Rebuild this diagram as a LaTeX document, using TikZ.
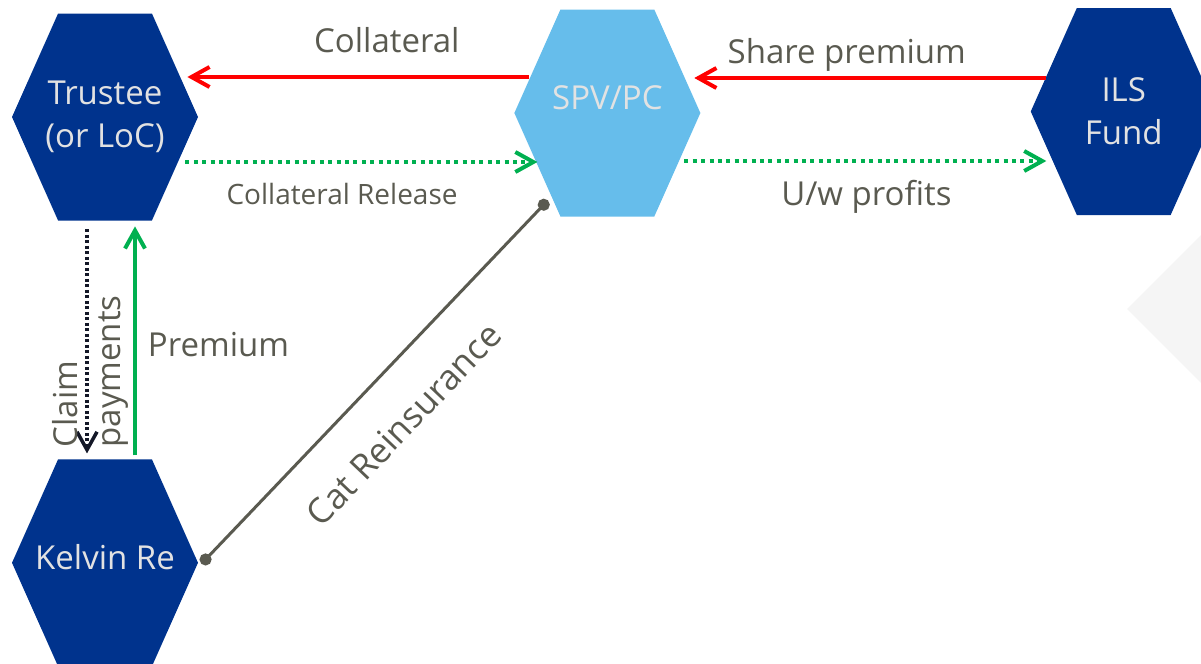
\documentclass[tikz,border=0pt]{standalone}
\usepackage{fontspec}
\setmainfont{Open Sans}
\usetikzlibrary{arrows.meta,positioning,shapes.symbols}

\definecolor{hexblue}{RGB}{0,51,141}
\definecolor{spvblue}{RGB}{102,189,235}
\definecolor{hextext}{RGB}{226,226,226}
\definecolor{lblgray}{RGB}{90,90,80}
\definecolor{flowred}{RGB}{255,0,0}
\definecolor{flowgreen}{RGB}{0,176,80}
\definecolor{flowdark}{RGB}{20,24,40}

\newcommand{\hexfont}{\fontsize{16.5}{21.5}\selectfont}
\newcommand{\lblfont}{\fontsize{16.5}{21.5}\selectfont}
\newcommand{\smallfont}{\fontsize{14}{17}\selectfont}
\newcommand{\catfont}{\fontsize{17.5}{21.5}\selectfont}

\begin{document}
\begin{tikzpicture}[x=0.5pt,y=-0.5pt]
	\tikzstyle{hexa}
	  =[signal, signal to=east and west, signal from=nowhere,
	  signal pointer angle=132, minimum width=93pt,
	  minimum height=103.5pt, inner xsep=-20pt, inner ysep=0pt,
	  fill=hexblue, text=hextext, align=center, font=\hexfont]
	\tikzstyle{barb}=[-{Straight Barb[length=9pt,width=10pt]}]
	\tikzstyle{solidred}=[barb, draw=flowred, line width=2pt]
	\tikzstyle{dotgreen}=[barb, draw=flowgreen, line width=2pt,
	  dash pattern=on 2pt off 2.2pt]
	\tikzstyle{solidgreen}=[barb, draw=flowgreen, line width=2pt]
	\tikzstyle{dotdark}=[barb, draw=flowdark, line width=1.75pt,
	  dash pattern=on 1.5pt off 1.25pt]
	\tikzstyle{catline}
	  =[{Circle[length=6pt]}-{Circle[length=6pt]}, draw=lblgray,
	  line width=1.5pt]
	\tikzstyle{lbl}=[text=lblgray, font=\lblfont]

	\useasboundingbox (0,0) rectangle (1201,664);
	\fill[black!4] (1127,309) -- (1220,216) -- (1313,309) -- (1220,402) -- cycle;

	\node[hexa] (trustee)
	  at (105,117) {\raisebox{1pt}{Trustee}\\\raisebox{1pt}{(or LoC)}};
	\node[hexa, fill=spvblue] (spv)
	  [right=157.75pt of trustee, yshift=2pt] {\raisebox{15pt}{SPV/PC}};
	\node[hexa] (ils)
	  [right=164.75pt of spv, yshift=0.75pt] {ILS\\Fund};
	\node[hexa] (kelvin)
	  [below=119pt of trustee] {\raisebox{6pt}{Kelvin Re}};

	\draw[solidred] ([shift={(15.5,-36)}]spv.west)
	  -- node[lbl, pos=0.417, yshift=18.5pt] {Collateral}
	  ([shift={(-11,-40)}]trustee.east);
	\draw[solidred] ([shift={(16,-33.5)}]ils.west)
	  -- node[lbl, pos=0.567, yshift=11.75pt] {Share premium}
	  ([shift={(-6.5,-35)}]spv.east);
	\draw[dotgreen] ([shift={(-13,45)}]trustee.east)
	  -- node[lbl, font=\smallfont, pos=0.445, yshift=-16pt] {Collateral Release}
	  ([shift={(23.5,49)}]spv.west);
	\draw[dotgreen] ([shift={(-16.5,48)}]spv.east)
	  -- node[lbl, pos=0.503, yshift=-17.75pt] {U/w profits}
	  ([shift={(16,49.5)}]ils.west);
	\draw[dotdark] ([shift={(-18,8.5)}]trustee.south)
	  -- node[lbl, pos=0.634, xshift=1.75pt, rotate=90, align=left] {Claim\\payments}
	  ([shift={(-18,-5.5)}]kelvin.north);
	\draw[solidgreen] ([shift={(30,-3.5)}]kelvin.north)
	  -- node[lbl, pos=0.485, xshift=41.75pt] {Premium}
	  ([shift={(30,5.5)}]trustee.south);
	\draw[catline] ([shift={(3,1)}]kelvin.east)
	  -- node[lbl, font=\catfont, pos=0.479, sloped, yshift=-25pt] {Cat Reinsurance}
	  ([shift={(-59.5,-16.5)}]spv.south);
\end{tikzpicture}
\end{document}
